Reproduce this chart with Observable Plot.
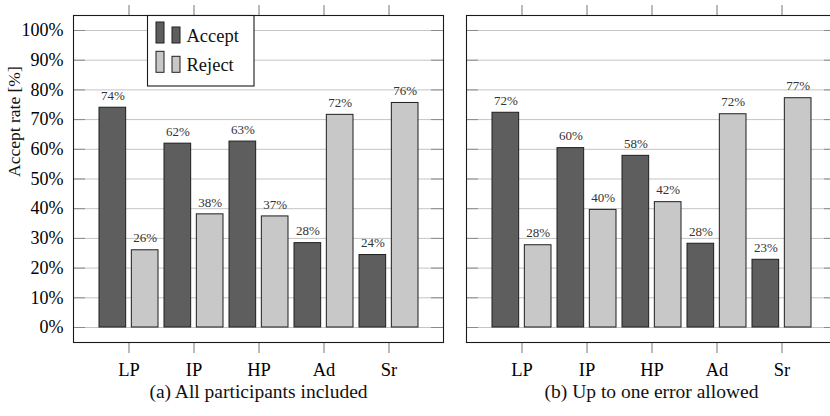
<!DOCTYPE html>
<html><head><meta charset="utf-8">
<script src="https://cdn.jsdelivr.net/npm/d3@7"></script>
<script src="https://cdn.jsdelivr.net/npm/@observablehq/plot@0.6"></script>
<style>
html,body{margin:0;padding:0;background:#fff;overflow:hidden;}
#wrap{position:relative;width:830px;height:416px;overflow:hidden;}
#wrap svg{position:absolute;top:0;}
</style></head><body><div id="wrap"></div>
<script>
const categories = ["LP", "IP", "HP", "Ad", "Sr"];
const seriesNames = ["Accept", "Reject"];
const seriesColors = ["#5e5e5e", "#c8c8c8"];
const acceptAll = [74.0, 61.9, 62.6, 28.4, 24.4];
const rejectAll = [26.0, 38.1, 37.4, 71.6, 75.6];
const acceptOneError = [72.3, 60.4, 57.8, 28.2, 22.8];
const rejectOneError = [27.7, 39.6, 42.2, 71.8, 77.2];
const yTicks = [0, 10, 20, 30, 40, 50, 60, 70, 80, 90, 100];
const captions = ["(a) All participants included", "(b) Up to one error allowed"];
const yLabel = "Accept rate [%]";

const FONT = "'Liberation Serif', 'Times New Roman', serif";
const H = 416, MT = 15, MB = 74;
const PI = 0.1, PO = 0.355, GAP = 5.3;

function panel(accept, reject, caption, o) {
  const innerW = o.width - o.marginLeft - o.marginRight;
  const step = innerW / (categories.length - PI + 2 * PO);
  const bw = step * (1 - PI);
  const inset = bw / 2 + GAP / 2;
  const off = (bw / 2 - GAP / 2) / 2 + GAP / 2;
  const rows = [];
  categories.forEach((c, i) => {
    rows.push({cat: c, series: seriesNames[0], value: accept[i]});
    rows.push({cat: c, series: seriesNames[1], value: reject[i]});
  });
  const A = rows.filter(d => d.series === seriesNames[0]);
  const R = rows.filter(d => d.series === seriesNames[1]);
  const fmt = d => Math.round(d.value) + "%";
  const marks = [
    Plot.gridY(yTicks, {stroke: "#c4c4c4", strokeOpacity: 1, strokeWidth: 1}),
    Plot.tickY(yTicks, {y: d => d, stroke: "#8a8a8a", insetRight: innerW - 12}),
    Plot.tickY(yTicks, {y: d => d, stroke: "#8a8a8a", insetLeft: innerW - 12}),
    Plot.barY(A, {x: "cat", y1: 0, y2: "value", fill: seriesColors[0], stroke: "#1e1e1e", strokeWidth: 1, insetRight: inset}),
    Plot.barY(R, {x: "cat", y1: 0, y2: "value", fill: seriesColors[1], stroke: "#1e1e1e", strokeWidth: 1, insetLeft: inset}),
    Plot.text(A, {x: "cat", y: "value", text: fmt, dx: -off, dy: -12, lineAnchor: "middle", fontSize: 13, fill: "#333"}),
    Plot.text(R, {x: "cat", y: "value", text: fmt, dx: off, dy: -12, lineAnchor: "middle", fontSize: 13, fill: "#333"}),
    Plot.axisX({anchor: "bottom", tickSize: 11, tickPadding: 9, fontSize: 18.5, stroke: "#777", label: null}),
    Plot.axisX({anchor: "top", tickSize: 11, tickFormat: () => "", stroke: "#777", label: null}),
    Plot.frame({stroke: "#1a1a1a", strokeWidth: 1.1}),
    Plot.text([caption], {frameAnchor: "bottom", dy: 49, lineAnchor: "middle", fontSize: 19.5, fill: "#111"})
  ];
  if (o.showY) {
    marks.push(Plot.axisY({anchor: "left", ticks: yTicks, tickSize: 0, tickPadding: 10, tickFormat: d => d + "%", fontSize: 18, label: null}));
    marks.push(Plot.text([yLabel], {frameAnchor: "left", rotate: -90, dx: -59, dy: -2, lineAnchor: "middle", fontSize: 17.5, fill: "#111"}));
  }
  const svg = Plot.plot({
    width: o.width, height: H,
    marginTop: MT, marginBottom: MB, marginLeft: o.marginLeft, marginRight: o.marginRight,
    style: {fontFamily: FONT, fontSize: "18px", background: "transparent", color: "#000", overflow: "visible"},
    x: {type: "band", domain: categories, paddingInner: PI, paddingOuter: PO, axis: null},
    y: {domain: [-5.05, 105.05], axis: null},
    marks
  });
  svg.style.left = o.left + "px";
  return svg;
}

const wrap = document.getElementById("wrap");
const left = panel(acceptAll, rejectAll, captions[0], {left: 0, width: 450, marginLeft: 73, marginRight: 7, showY: true});
const right = panel(acceptOneError, rejectOneError, captions[1], {left: 450, width: 390, marginLeft: 16, marginRight: 4, showY: false});
wrap.appendChild(left);
wrap.appendChild(right);

// legend inside left panel
const lg = d3.select(left).append("g").attr("font-family", FONT).attr("text-anchor", "start");
lg.append("rect").attr("x", 147.5).attr("y", 15.5).attr("width", 106.5).attr("height", 70.5)
  .attr("fill", "#fff").attr("stroke", "#1a1a1a").attr("stroke-width", 1.1);
seriesNames.forEach((name, i) => {
  const y0 = 22 + i * 29.3;
  lg.append("rect").attr("x", 156).attr("y", y0).attr("width", 8).attr("height", 21)
    .attr("fill", seriesColors[i]).attr("stroke", "#1e1e1e");
  lg.append("rect").attr("x", 172).attr("y", y0 + 5).attr("width", 8).attr("height", 16)
    .attr("fill", seriesColors[i]).attr("stroke", "#1e1e1e");
  lg.append("text").attr("x", 186.5).attr("y", y0 + 19.5).attr("font-size", 18.5)
    .attr("text-anchor", "start").attr("fill", "#111").text(name);
});
</script></body></html>
